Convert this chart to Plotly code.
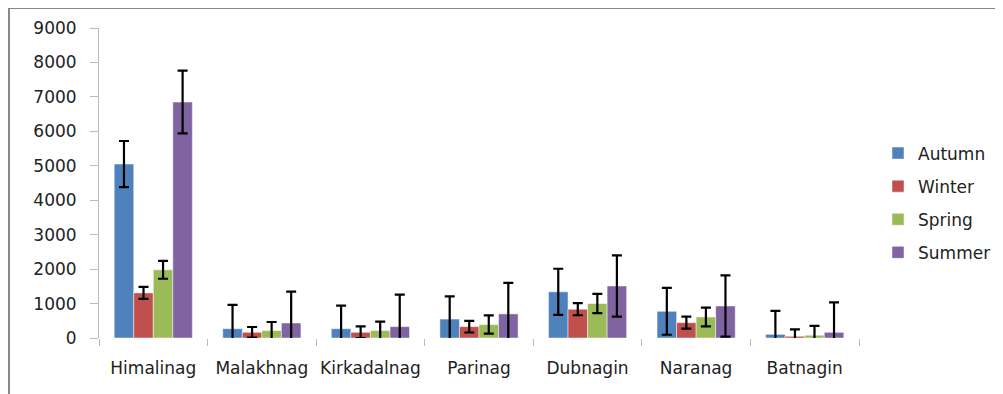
import plotly.graph_objects as go

sites = ["Himalinag", "Malakhnag", "Kirkadalnag", "Parinag", "Dubnagin", "Naranag", "Batnagin"]
seasons = ["Autumn", "Winter", "Spring", "Summer"]
colors = ["#4F81BD", "#C0504D", "#9BBB59", "#8064A2"]

autumn = [5050, 270, 270, 550, 1340, 775, 105]
winter = [1310, 165, 165, 330, 835, 445, 50]
spring = [1980, 215, 215, 390, 1000, 610, 80]
summer = [6850, 435, 330, 700, 1510, 930, 165]

autumn_err = [670, 690, 670, 660, 670, 680, 680]
winter_err = [175, 155, 170, 170, 175, 175, 200]
spring_err = [260, 250, 260, 265, 280, 270, 270]
summer_err = [910, 910, 930, 900, 890, 890, 870]

values = [autumn, winter, spring, summer]
errors = [autumn_err, winter_err, spring_err, summer_err]

FONT = "DejaVu Sans"

fig = go.Figure()
for name, vals, errs, col in zip(seasons, values, errors, colors):
    fig.add_trace(go.Bar(
        x=sites, y=vals, name=name, legendgroup=name,
        marker=dict(color=col, line=dict(color="rgba(255,255,255,0.6)", width=0.8)),
        error_y=dict(type="data", array=errs, visible=True, color="black",
                     thickness=2.2, width=5),
    ))

# page has an 8px body margin; work in page pixels and convert
OFF = 8
W, H = 1003 - OFF, 394 - OFF
L, R, T, B = 99 - OFF, 144, 28 - OFF, 56
pw = W - L - R
ph = H - T - B

def px_x(p):
    return (p - OFF - L) / pw

def px_y(p):
    return (H - B - (p - OFF)) / ph

fig.update_layout(
    width=W, height=H,
    margin=dict(l=L, r=R, t=T, b=B, autoexpand=False),
    paper_bgcolor="white", plot_bgcolor="white",
    barmode="group", bargap=0.28, bargroupgap=0,
    font=dict(family=FONT, size=17, color="#222"),
    showlegend=True,
    legend=dict(x=px_x(878), xanchor="left", y=px_y(203), yanchor="middle",
                font=dict(family=FONT, size=17, color="#222"),
                tracegroupgap=8, bgcolor="rgba(0,0,0,0)", itemwidth=30),
    xaxis=dict(showline=False, ticks="outside", tickson="boundaries",
               ticklen=7, tickcolor="#BBBBBB", tickwidth=1, automargin=False,
               tickangle=0,
               showgrid=False, zeroline=False, ticklabelstandoff=18,
               tickfont=dict(family=FONT, size=17, color="#222")),
    yaxis=dict(range=[0, 9000], dtick=1000, showline=True, linecolor="#BBBBBB",
               linewidth=1, ticks="outside", ticklen=8, tickcolor="#BBBBBB",
               showgrid=False, zeroline=False, ticklabelstandoff=10, automargin=False,
               tickfont=dict(family=FONT, size=17, color="#222")),
    shapes=[
        dict(type="line", xref="paper", yref="paper",
             x0=px_x(8), x1=px_x(1003), y0=px_y(8), y1=px_y(8),
             line=dict(color="#888888", width=2)),
        dict(type="line", xref="paper", yref="paper",
             x0=px_x(9), x1=px_x(9), y0=px_y(8), y1=px_y(400),
             line=dict(color="#888888", width=2)),
    ],
)

fig.write_html("out.html")
